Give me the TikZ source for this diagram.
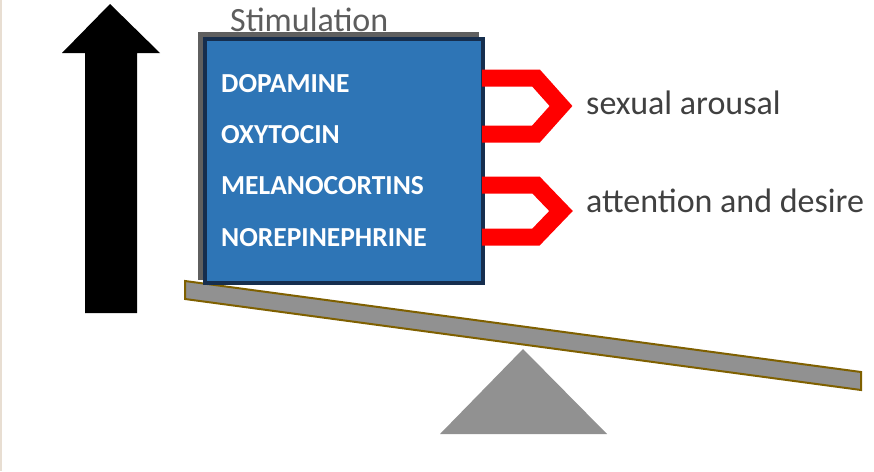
\documentclass[tikz,border=0pt]{standalone}
\usepackage{fontspec}
\setmainfont{Carlito}
\definecolor{boxblue}{RGB}{46,117,182}
\definecolor{boxnavy}{RGB}{22,46,78}
\definecolor{shadowgray}{RGB}{95,95,95}
\definecolor{plankgray}{RGB}{145,145,145}
\definecolor{plankbrown}{RGB}{127,96,0}
\definecolor{textgray}{RGB}{64,64,64}
\definecolor{edgetan}{RGB}{232,222,210}
\tikzset{
  boxlabel/.style={anchor=base west, inner sep=0pt, text=white, font=\fontsize{27.5}{27.5}\selectfont\bfseries},
  sidelabel/.style={anchor=base west, inner sep=0pt, text=textgray, font=\fontsize{34}{34}\selectfont},
  bracket/.style={draw=red, line width=17pt, line join=miter},
}
\begin{document}
\begin{tikzpicture}[x=1pt,y=-1pt]
\useasboundingbox (0,0) rectangle (874,471);
% faint left edge
\draw[edgetan, line width=1.5pt] (0.75,0) -- (0.75,471);
% big up arrow
\fill[black] (110,4) -- (160,53) -- (137,53) -- (137,313) -- (85,313) -- (85,53) -- (62,53) -- cycle;
% fulcrum
\fill[plankgray] (440,434) -- (607,434) -- (523,349) -- cycle;
% plank
\filldraw[fill=plankgray, draw=plankbrown, line width=2pt] (185,281) -- (861,372) -- (861,390) -- (185,299) -- cycle;
% box with shadow
\fill[shadowgray] (198,32) rectangle (479,280);
\node[draw=boxnavy, fill=boxblue, line width=4pt, minimum width=278pt, minimum height=244pt, inner sep=0pt, anchor=north west] (box) at (203,37) {};
% texts
\node[sidelabel, text=textgray!85] (stim) at (230,31) {Stimulation};
\node[boxlabel] (dop) at (221,92) {DOPAMINE};
\node[boxlabel] (oxy) at (221,143) {OXYTOCIN};
\node[boxlabel] (mel) at (221,194) {MELANOCORTINS};
\node[boxlabel] (nor) at (221,246) {NOREPINEPHRINE};
% brackets
\draw[bracket] (482,78) -- (536,78) -- (561,106) -- (536,134) -- (482,134);
\draw[bracket] (482,185) -- (536,185) -- (561,211) -- (536,237) -- (482,237);
\node[sidelabel] (arousal) at (586,114) {sexual arousal};
\node[sidelabel] (desire) at (586,212) {attention and desire};
\end{tikzpicture}
\end{document}
